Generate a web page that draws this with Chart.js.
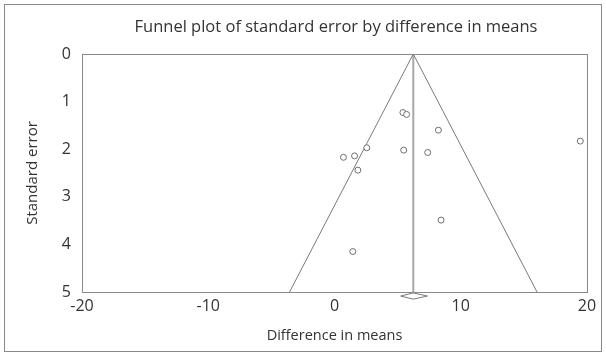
<!DOCTYPE html>
<html>
<head>
<meta charset="utf-8">
<script src="https://cdn.jsdelivr.net/npm/chart.js@4"></script>
<style>
  html, body { margin: 0; padding: 0; background: #fff; }
  #wrap { width: 606px; height: 357px; }
</style>
</head>
<body>
<div id="wrap"><canvas id="funnel-chart" width="606" height="357"></canvas></div>
<script>
// study effects
const diffMeans = [0.71, 1.59, 2.56, 1.85, 5.42, 5.71, 5.48, 7.38, 8.23, 19.47, 1.45, 8.44];
const stdErrors = [2.17, 2.14, 1.97, 2.44, 1.23, 1.27, 2.02, 2.07, 1.60, 1.83, 4.15, 3.49];

// pooled estimate and the 95% funnel
const pooledX = [6.24, 6.24];
const pooledY = [0, 5];
const funnelX = [-3.56, 6.24, 16.04];
const funnelY = [5, 0, 5];
const diamondX = [5.24, 6.24, 7.36, 6.24, 5.24];
const diamondY = [5.085, 5.02, 5.085, 5.15, 5.085];

const xTicks = [-20, -10, 0, 10, 20];
const yTicks = [0, 1, 2, 3, 4, 5];

const FONT = '"Open Sans", "DejaVu Sans", sans-serif';
const toPoints = (xs, ys) => xs.map((x, i) => ({ x, y: ys[i] }));

const framePlugin = {
  id: 'frame',
  afterDraw(chart) {
    const { ctx, chartArea } = chart;
    ctx.save();
    ctx.strokeStyle = '#8a8a8a';
    ctx.lineWidth = 1;
    ctx.strokeRect(4.5, 4.5, 597, 347);
    ctx.strokeRect(chartArea.left + 0.5, chartArea.top + 0.5, chartArea.right - chartArea.left, chartArea.bottom - chartArea.top);
    ctx.fillStyle = '#333';
    ctx.font = '16.5px ' + FONT;
    ctx.textAlign = 'center';
    ctx.textBaseline = 'middle';
    ctx.fillText('Funnel plot of standard error by difference in means', 336, 27);
    ctx.restore();
  }
};

const ctx = document.getElementById('funnel-chart').getContext('2d');
new Chart(ctx, {
  type: 'scatter',
  data: {
    datasets: [
      {
        label: 'Studies',
        data: toPoints(diffMeans, stdErrors),
        pointRadius: 3,
        pointBorderWidth: 1,
        pointBorderColor: '#6e6e6e',
        pointBackgroundColor: '#fff',
        showLine: false
      },
      {
        label: 'Funnel',
        data: toPoints(funnelX, funnelY),
        showLine: true,
        borderColor: '#7a7a7a',
        borderWidth: 1,
        pointRadius: 0
      },
      {
        label: 'Pooled',
        data: toPoints(pooledX, pooledY),
        showLine: true,
        borderColor: '#a8a8a8',
        borderWidth: 2,
        pointRadius: 0
      },
      {
        label: 'Diamond',
        data: toPoints(diamondX, diamondY),
        showLine: true,
        borderColor: '#7a7a7a',
        borderWidth: 1,
        pointRadius: 0,
        clip: false
      }
    ]
  },
  options: {
    responsive: false,
    animation: false,
    layout: { padding: { top: 54, right: 19, left: 0, bottom: 0 } },
    plugins: {
      legend: { display: false },
      tooltip: { enabled: false }
    },
    scales: {
      x: {
        type: 'linear',
        min: -20,
        max: 20,
        afterFit: (s) => { s.height = 65; },
        afterBuildTicks: (s) => { s.ticks = xTicks.map((v) => ({ value: v })); },
        grid: { display: false, drawTicks: false },
        border: { display: true, color: '#8a8a8a' },
        ticks: { padding: 5, color: '#333', font: { family: FONT, size: 16 } },
        title: {
          display: true,
          text: 'Difference in means',
          color: '#333',
          font: { family: FONT, size: 14.5 },
          padding: { top: 0, bottom: 12 }
        }
      },
      y: {
        type: 'linear',
        min: 0,
        max: 5,
        reverse: true,
        afterFit: (s) => { s.width = 82; },
        afterBuildTicks: (s) => { s.ticks = yTicks.map((v) => ({ value: v })); },
        grid: { display: false, drawTicks: false },
        border: { display: true, color: '#8a8a8a' },
        ticks: { padding: 11, color: '#333', font: { family: FONT, size: 16 } },
        title: {
          display: true,
          text: 'Standard error',
          color: '#333',
          font: { family: FONT, size: 15 },
          padding: { top: 24, bottom: 0 }
        }
      }
    }
  },
  plugins: [framePlugin]
});
</script>
</body>
</html>
